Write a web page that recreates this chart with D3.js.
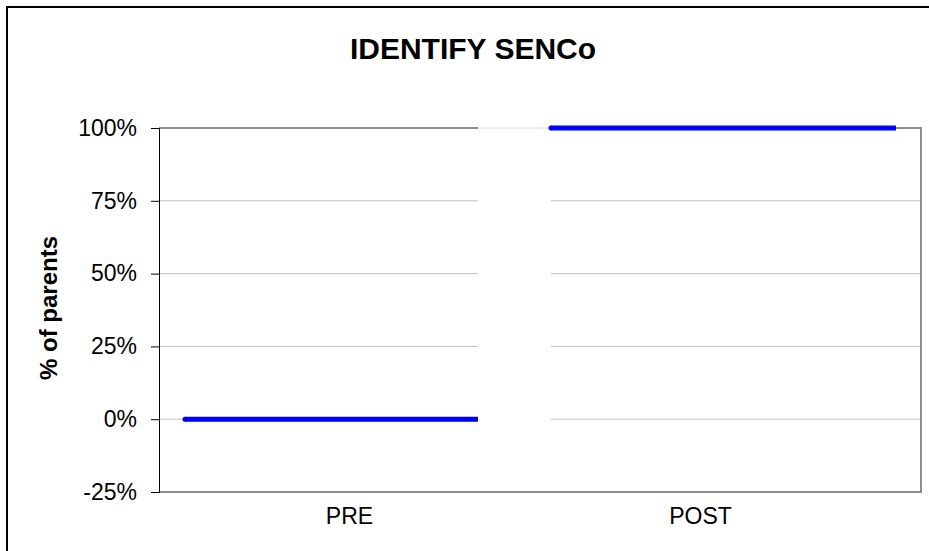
<!DOCTYPE html>
<html>
<head>
<meta charset="utf-8">
<script src="https://cdn.jsdelivr.net/npm/d3@7/dist/d3.min.js"></script>
<style>
  body { margin: 0; background: #fff; }
  svg { display: block; font-family: Arial, "Liberation Sans", sans-serif; }
</style>
</head>
<body>
<svg id="chart" width="929" height="551"></svg>
<script>
// chart data
const categories = ["PRE", "POST"];
const values = [0, 1];
const yTicks = [-0.25, 0, 0.25, 0.5, 0.75, 1];
const title = "IDENTIFY SENCo";
const yTitle = "% of parents";

const svg = d3.select("#chart");
const plot = { left: 159, right: 921, top: 128, bottom: 492 };

// how far each blue segment sits inside its category band (px), and label nudges
const segInset = [[26, 62], [11, 25]];
const labelShift = [0, -30];

const x = d3.scaleBand()
  .domain(categories)
  .range([plot.left, plot.right]);

const y = d3.scaleLinear()
  .domain([-0.25, 1])
  .range([plot.bottom, plot.top]);

// outer frame
svg.append("rect")
  .attr("x", 7).attr("y", 7)
  .attr("width", 940).attr("height", 560)
  .attr("fill", "none")
  .attr("stroke", "#000")
  .attr("stroke-width", 2);

// title
svg.append("text")
  .attr("x", 473).attr("y", 59)
  .attr("text-anchor", "middle")
  .attr("font-size", 30)
  .attr("font-weight", "bold")
  .text(title);

// gridlines
svg.append("g")
  .selectAll("line")
  .data(yTicks.filter(d => d > -0.25 && d < 1))
  .join("line")
  .attr("x1", plot.left).attr("x2", plot.right)
  .attr("y1", d => y(d)).attr("y2", d => y(d))
  .attr("stroke", "#c0c0c0")
  .attr("stroke-width", 1);

// plot border (top, right, bottom)
svg.append("path")
  .attr("d", `M${plot.left},${plot.top}H${plot.right}V${plot.bottom}H${plot.left}`)
  .attr("fill", "none")
  .attr("stroke", "#8c8c8c")
  .attr("stroke-width", 2);

// white gap between the two segments hides the gridlines there
const gapX0 = x(categories[0]) + x.bandwidth() - segInset[0][1];
const gapX1 = x(categories[1]) + segInset[1][0];
svg.append("rect")
  .attr("x", gapX0).attr("y", plot.top - 1)
  .attr("width", gapX1 - gapX0)
  .attr("height", plot.bottom - plot.top)
  .attr("fill", "#fff");
svg.append("line")
  .attr("x1", gapX0).attr("x2", gapX1)
  .attr("y1", plot.top).attr("y2", plot.top)
  .attr("stroke", "#dcdcdc")
  .attr("stroke-width", 1);

// y axis
const yAxis = svg.append("g")
  .attr("transform", `translate(${plot.left},0)`)
  .call(d3.axisLeft(y)
    .tickValues(yTicks)
    .tickFormat(d => Math.round(d * 100) + "%")
    .tickSize(8)
    .tickPadding(14));
yAxis.select(".domain").attr("stroke", "#000");
yAxis.selectAll("line").attr("stroke", "#000");
yAxis.selectAll("text")
  .attr("font-size", 23)
  .attr("font-family", "Arial, 'Liberation Sans', sans-serif")
  .attr("fill", "#000");

// x labels
svg.append("g")
  .selectAll("text")
  .data(categories)
  .join("text")
  .attr("x", (d, i) => x(d) + x.bandwidth() / 2 + labelShift[i])
  .attr("y", 524)
  .attr("text-anchor", "middle")
  .attr("font-size", 23)
  .text(d => d);

// y title
svg.append("text")
  .attr("transform", "translate(57,308) rotate(-90)")
  .attr("text-anchor", "middle")
  .attr("font-size", 24)
  .attr("font-weight", "bold")
  .text(yTitle);

// value segments
const segs = svg.append("g")
  .selectAll("g")
  .data(categories.map((c, i) => ({ c, v: values[i], i })))
  .join("g");
segs.append("line")
  .attr("x1", d => x(d.c) + segInset[d.i][0])
  .attr("x2", d => x(d.c) + x.bandwidth() - segInset[d.i][1])
  .attr("y1", d => y(d.v)).attr("y2", d => y(d.v))
  .attr("stroke", "#0000ff")
  .attr("stroke-width", 5);
segs.append("circle")
  .attr("cx", d => x(d.c) + segInset[d.i][0])
  .attr("cy", d => y(d.v))
  .attr("r", 2.5)
  .attr("fill", "#0000ff");
</script>
</body>
</html>
